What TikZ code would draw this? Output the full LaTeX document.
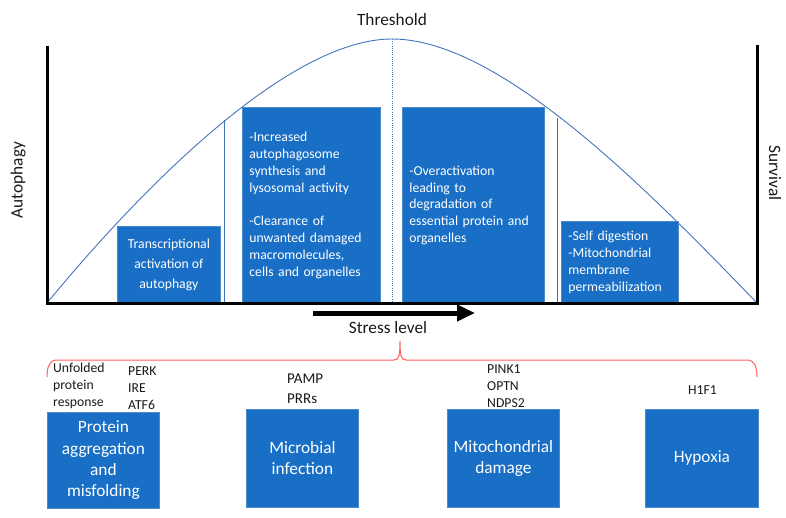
\documentclass[tikz,border=0pt]{standalone}
\usepackage{fontspec}
\setmainfont{Carlito}
\usetikzlibrary{arrows.meta}
\definecolor{boxblue}{RGB}{25,111,198}
\definecolor{boxedge}{RGB}{75,138,205}
\definecolor{curveblue}{RGB}{70,115,190}
\definecolor{bracered}{RGB}{255,95,95}
\definecolor{txt}{RGB}{25,25,25}
\begin{document}
\begin{tikzpicture}[x=1pt,y=-1pt,
  bx/.style={fill=boxblue, draw=boxedge, line width=0.8pt, text=white, anchor=north west, inner ysep=0pt},
  leftbox/.style={bx, align=left, inner xsep=7pt, font=\fontsize{13.7}{16.9}\selectfont},
  centbox/.style={bx, align=center, inner xsep=0pt},
  small/.style={font=\fontsize{13.7}{17}\selectfont},
  big/.style={font=\fontsize{17.3}{21.3}\selectfont},
  lbl/.style={text=txt, inner sep=0pt},
  axisline/.style={line width=3pt, black},
  thin/.style={curveblue, line width=0.9pt}]
\useasboundingbox (0,0) rectangle (786,518);

% curve and dividers
\coordinate (c0) at (47,303);
\coordinate (cpeak) at (392,39);
\coordinate (cend) at (757,303);
\draw[thin] (c0) .. controls (145,184) and (290,39) .. (cpeak) .. controls (500,39) and (648,190) .. (cend);
\coordinate (dbot) at (392,303);
\draw[curveblue, line width=0.8pt, dash pattern=on 1pt off 1.2pt] (cpeak) -- (dbot);
\coordinate (v1t) at (224,120); \coordinate (v1b) at (224,303);
\coordinate (v2t) at (557,118); \coordinate (v2b) at (557,303);
\draw[thin] (v1t) -- (v1b);
\draw[thin] (v2t) -- (v2b);

% upper boxes
\node[centbox, minimum width=103pt, minimum height=77pt, font=\fontsize{13.7}{19.8}\selectfont] (b1) at (117,226)
  {Transcriptional\\activation of\\autophagy};
\node[leftbox, text width=124pt, minimum height=196pt] (b2) at (242,107)
  {-Increased\\autophagosome\\synthesis and\\lysosomal activity\\[16.9pt]-Clearance of\\unwanted damaged\\macromolecules,\\cells and organelles};
\node[leftbox, text width=128pt, minimum height=196pt] (b3) at (402,107)
  {-Overactivation\\leading to\\degradation of\\essential protein and\\organelles};
\node[leftbox, text width=103pt, minimum height=82pt] (b4) at (561,221)
  {-Self digestion\\-Mitochondrial\\membrane\\permeabilization};

% axes
\coordinate (ytop) at (47,46);
\coordinate (origin) at (47,303);
\coordinate (xend) at (757,303);
\coordinate (rtop) at (757,45);
\draw[axisline] (ytop) -- (origin) -- (xend) -- (rtop);

% axis labels
\node[lbl, big] (thr) at (392,20) {Threshold};
\node[lbl, big, rotate=90] (auto) at (18,180) {Autophagy};
\node[lbl, big, rotate=-90] (surv) at (775,173) {Survival};

% stress arrow
\coordinate (sa) at (313,313);
\coordinate (sb) at (475,313);
\draw[line width=5pt, -{Triangle[length=18pt,width=16pt]}] (sa) -- (sb);
\node[lbl, big] (stress) at (388,328) {Stress level};

% brace
\coordinate (brl) at (47,377);
\coordinate (brr) at (757,377);
\coordinate (brt) at (400,341);
\draw[bracered, line width=1pt] (brl) .. controls (47,366) and (50,360) .. (57,360) -- (394,360)
  .. controls (398.5,360) and (400,357) .. (brt) .. controls (400,357) and (401.5,360) .. (406,360)
  -- (747,360) .. controls (754,360) and (757,366) .. (brr);

% lower labels
\node[lbl, small, align=left, anchor=west] (upr) at (53,386) {Unfolded\\protein\\response};
\node[lbl, small, align=left, anchor=west] (perk) at (128,388) {PERK\\IRE\\ATF6};
\node[lbl, font=\fontsize{15}{20}\selectfont, align=left, anchor=west] (pamp) at (287,389) {PAMP\\PRRs};
\node[lbl, small, align=left, anchor=west] (pink) at (487,386) {PINK1\\OPTN\\NDPS2};
\node[lbl, small, anchor=west] (hif) at (688,390) {H1F1};

% lower boxes
\node[centbox, big, minimum width=112pt, minimum height=96pt] (p1) at (47,412)
  {Protein\\aggregation\\and\\misfolding};
\node[centbox, big, minimum width=112pt, minimum height=98pt] (p2) at (246,409)
  {Microbial\\infection};
\node[centbox, big, minimum width=112pt, minimum height=98pt] (p3) at (447,409)
  {Mitochondrial\\damage};
\node[centbox, big, minimum width=113pt, minimum height=98pt] (p4) at (645,409)
  {Hypoxia};
\end{tikzpicture}
\end{document}
